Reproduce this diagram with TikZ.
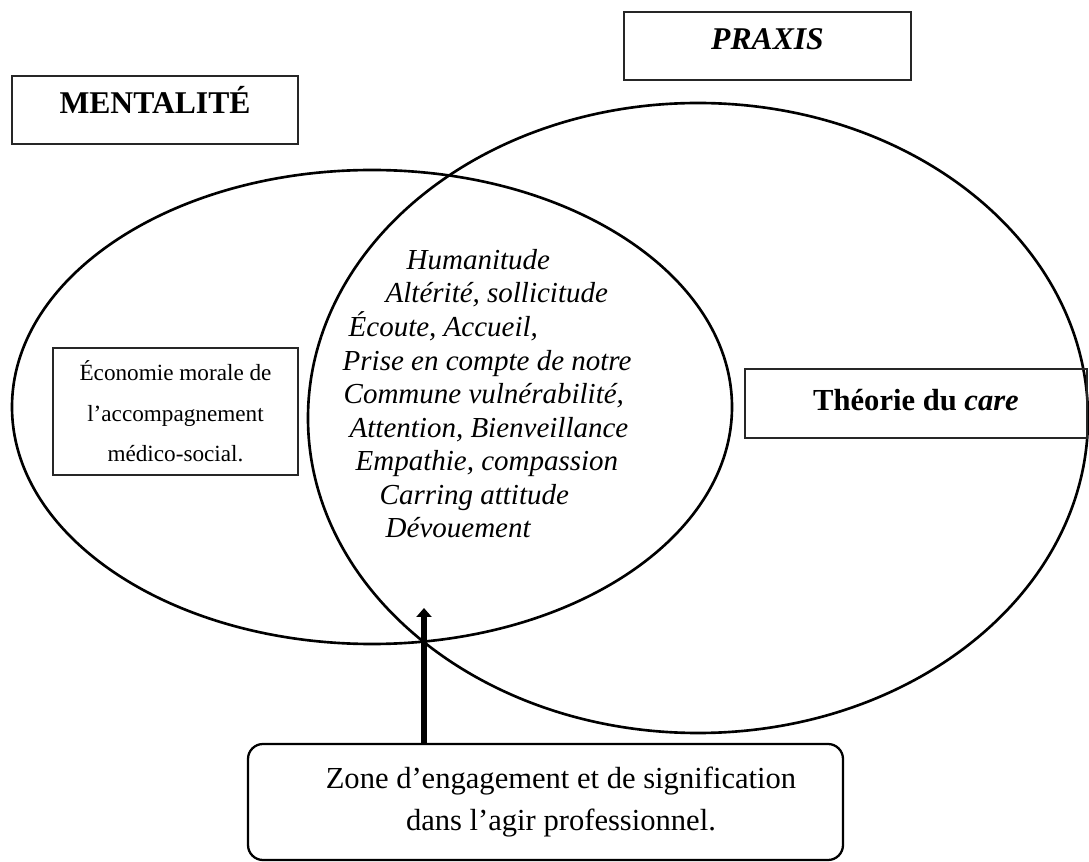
\documentclass[tikz,border=0pt]{standalone}
\usepackage{fontspec}
\setmainfont{Liberation Serif}
\usetikzlibrary{arrows.meta, positioning}

\tikzset{
  titlebox/.style={draw=black!85, line width=0.7pt, minimum width=5.72cm, minimum height=1.36cm,
    text height=0.45cm, text depth=0.3cm},
  ovale/.style={line width=1.5pt},
}

\begin{document}
\begin{tikzpicture}[>=stealth, thick]
    \useasboundingbox (0,0) rectangle (21.78,17.22);
    % les deux ensembles
    \draw[ovale] (7.44,9.08) ellipse [x radius=7.2cm, y radius=4.74cm];
    \draw[ovale] (13.96,8.86) ellipse [x radius=7.8cm, y radius=6.3cm];

    % titres
    \node[titlebox, font=\fontsize{18}{22}\selectfont\bfseries] (mentalite) at (3.10,15.02) {MENTALITÉ};
    \node[titlebox, minimum width=5.74cm, font=\fontsize{18}{22}\selectfont\bfseries\itshape] (praxis) at (15.35,16.30) {PRAXIS};

    \node[draw=black!85, line width=0.7pt, minimum width=4.9cm, minimum height=2.54cm, align=center,
        font=\fontsize{13.2}{23}\selectfont] (economie) at (3.51,8.99) {
        Économie morale de\\l’accompagnement\\médico-social.
    };

    \node[draw=black!85, line width=0.7pt, minimum width=6.84cm, minimum height=1.38cm,
        text height=0.45cm, text depth=0.15cm, font=\fontsize{17.4}{21}\selectfont\bfseries] (care) at (18.32,9.15) {Théorie du \textit{care}};

    % zone commune
    \node[anchor=north west, inner sep=0pt, align=left, font=\fontsize{16.5}{19.1}\selectfont\itshape] (valeurs) at (6.84,12.25) {
        \hspace*{1.28cm}Humanitude\\
        \hspace*{0.86cm}Altérité, sollicitude\\
        \hspace*{0.12cm}Écoute, Accueil,\\
        Prise en compte de notre\\
        \hspace*{0.02cm}Commune vulnérabilité,\\
        \hspace*{0.14cm}Attention, Bienveillance\\
        \hspace*{0.26cm}Empathie, compassion\\
        \hspace*{0.74cm}Carring attitude\\
        \hspace*{0.86cm}Dévouement
    };

    \node[draw, rounded corners=0.3cm, line width=1.3pt, minimum width=11.9cm, minimum height=2.32cm, align=center,
        font=\fontsize{17.4}{23.8}\selectfont] (zone) at (10.91,1.18) {
        \hspace*{0.62cm}Zone d’engagement et de signification\\\hspace*{0.62cm}dans l’agir professionnel.
    };

    \coordinate (pointe) at (8.48,5.06);
    \draw[-{Triangle[length=0.18cm, width=0.3cm]}, line width=3.4pt] (pointe |- zone.north) -- (pointe);
\end{tikzpicture}
\end{document}
